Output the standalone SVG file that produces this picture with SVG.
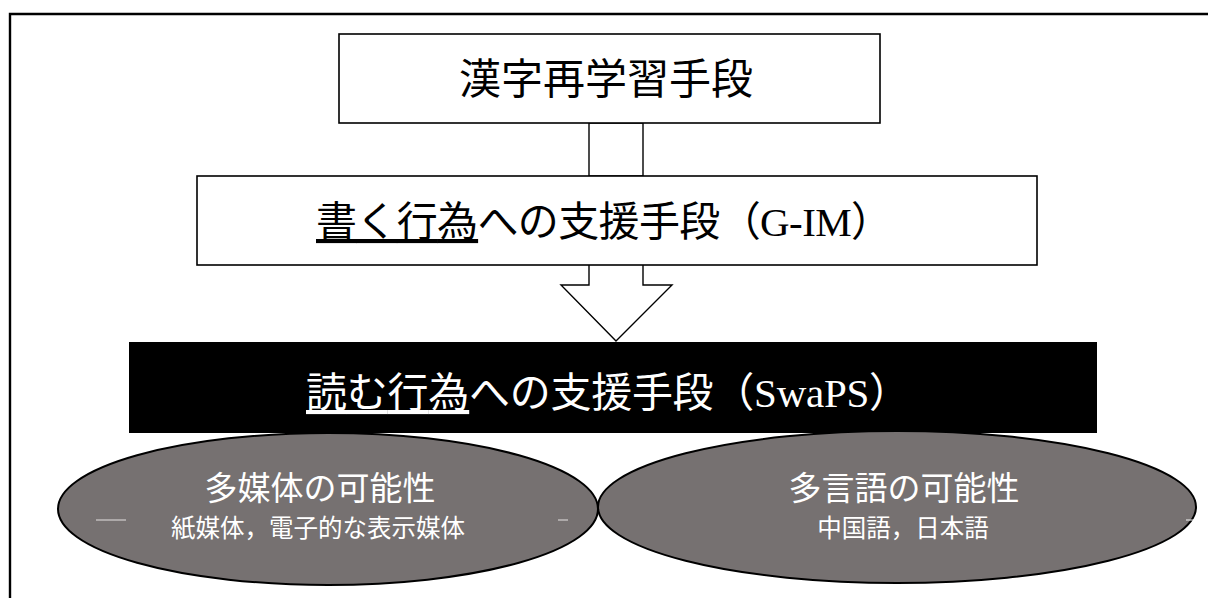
<svg xmlns="http://www.w3.org/2000/svg" width="1208" height="598" viewBox="0 0 1208 598">
<style>
.box{fill:#fff;stroke:#000;stroke-width:1.6}
.jp{font-family:"Liberation Serif","Noto Sans CJK JP",serif;text-anchor:middle}
.lat{font-family:"Liberation Serif",serif}
.ell{fill:#767171;stroke:#000;stroke-width:2}
.wt{fill:#fff;font-family:"Noto Sans CJK JP",sans-serif;text-anchor:middle}
.cut{stroke:#fff;stroke-width:1.2;opacity:0.8}
</style>
<rect x="0" y="0" width="1208" height="598" fill="#fff"/>
<path d="M10 598 V14 H1208" fill="none" stroke="#000" stroke-width="2.4"/>
<g id="connectors">
<rect x="589" y="123" width="54" height="53" fill="#fff" stroke="#000" stroke-width="1.4"/>
<path d="M589 265 V285 H561 L616 341 L672 285 H643 V265" fill="#fff" stroke="#000" stroke-width="1.4"/>
</g>
<g id="n1">
<rect class="box" x="339" y="34" width="541" height="89"/>
<text class="jp" x="606" y="94" font-size="42">漢字再学習手段</text>
</g>
<g id="n2">
<rect class="box" x="197" y="176" width="840" height="89"/>
<text class="jp" x="604" y="236" font-size="41" textLength="576" lengthAdjust="spacing"><tspan text-decoration="underline">書く行為</tspan>への支援手段（<tspan class="lat">G-IM</tspan>）</text>
</g>
<g id="n3">
<rect x="129" y="342" width="968" height="91" fill="#000"/>
<text class="jp" x="608" y="407" font-size="41" textLength="604" lengthAdjust="spacing" fill="#fff"><tspan text-decoration="underline">読む行為</tspan>への支援手段（<tspan class="lat">SwaPS</tspan>）</text>
</g>
<g id="n4">
<ellipse class="ell" cx="328" cy="509" rx="270" ry="76"/>
<text class="wt" x="320" y="500" font-size="33">多媒体の可能性</text>
<text class="wt" x="318" y="537" font-size="24.5">紙媒体，電子的な表示媒体</text>
<path class="cut" d="M96 520 H126 M558 520 H568"/>
</g>
<g id="n5">
<ellipse class="ell" cx="897" cy="507" rx="299" ry="76"/>
<text class="wt" x="904" y="500" font-size="33">多言語の可能性</text>
<text class="wt" x="903" y="537" font-size="24.5">中国語，日本語</text>
<path class="cut" d="M1186 520 H1198"/>
</g>
</svg>
